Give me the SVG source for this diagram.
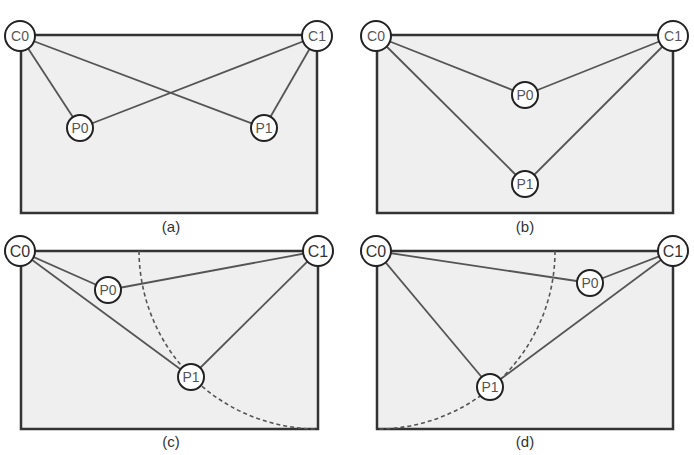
<svg xmlns="http://www.w3.org/2000/svg" width="694" height="455" viewBox="0 0 694 455">
<style>
.frame{fill:#efefef;stroke:#333;stroke-width:2.5}
.edge{stroke:#555;stroke-width:1.8;fill:none}
.arc{stroke:#555;stroke-width:1.6;fill:none;stroke-dasharray:4 3}
.cn{fill:#fff;stroke:#222;stroke-width:2}
.pn{fill:#fff;stroke:#222;stroke-width:2}
.nl{font-family:"Liberation Sans",Arial,sans-serif;font-size:14px;fill:#555;text-anchor:middle;dominant-baseline:central}
.cap{font-family:"Liberation Sans",Arial,sans-serif;font-size:15px;fill:#333;text-anchor:middle}
</style>
<rect width="694" height="455" fill="#fff"/>
<rect class="frame" x="21" y="35" width="296" height="178"/>
<rect class="frame" x="377" y="35" width="296" height="178"/>
<rect class="frame" x="21" y="251" width="297" height="178"/>
<rect class="frame" x="377" y="251" width="296" height="178"/>
<path class="arc" d="M139,251 A179,179 0 0 0 318,429"/>
<path class="arc" d="M555,251 A178,178 0 0 1 377,429"/>
<g id="connectors">
<line class="edge" x1="20" y1="36" x2="80" y2="128"/>
<line class="edge" x1="20" y1="36" x2="264" y2="128"/>
<line class="edge" x1="317" y1="36" x2="80" y2="128"/>
<line class="edge" x1="317" y1="36" x2="264" y2="128"/>
<line class="edge" x1="376" y1="36" x2="525" y2="95"/>
<line class="edge" x1="376" y1="36" x2="525" y2="184"/>
<line class="edge" x1="673" y1="36" x2="525" y2="95"/>
<line class="edge" x1="673" y1="36" x2="525" y2="184"/>
<line class="edge" x1="20" y1="251" x2="108" y2="290"/>
<line class="edge" x1="20" y1="251" x2="191" y2="377"/>
<line class="edge" x1="318" y1="251" x2="108" y2="290"/>
<line class="edge" x1="318" y1="251" x2="191" y2="377"/>
<line class="edge" x1="376" y1="251" x2="590" y2="283"/>
<line class="edge" x1="376" y1="251" x2="490" y2="387"/>
<line class="edge" x1="673" y1="251" x2="590" y2="283"/>
<line class="edge" x1="673" y1="251" x2="490" y2="387"/>
</g>
<g id="a-C0"><circle class="cn" cx="20" cy="36" r="15"/><text class="nl" x="20" y="36">C0</text></g>
<g id="a-C1"><circle class="cn" cx="317" cy="36" r="15"/><text class="nl" x="317" y="36">C1</text></g>
<g id="a-P0"><circle class="pn" cx="80" cy="128" r="13"/><text class="nl" x="80" y="128">P0</text></g>
<g id="a-P1"><circle class="pn" cx="264" cy="128" r="13"/><text class="nl" x="264" y="128">P1</text></g>
<g id="b-C0"><circle class="cn" cx="376" cy="36" r="15"/><text class="nl" x="376" y="36">C0</text></g>
<g id="b-C1"><circle class="cn" cx="673" cy="36" r="15"/><text class="nl" x="673" y="36">C1</text></g>
<g id="b-P0"><circle class="pn" cx="525" cy="95" r="13"/><text class="nl" x="525" y="95">P0</text></g>
<g id="b-P1"><circle class="pn" cx="525" cy="184" r="13"/><text class="nl" x="525" y="184">P1</text></g>
<g id="c-C0"><circle class="cn" cx="20" cy="251" r="15"/><text class="nl" x="20" y="251" style="font-size:16px;fill:#333">C0</text></g>
<g id="c-C1"><circle class="cn" cx="318" cy="251" r="15"/><text class="nl" x="318" y="251" style="font-size:16px;fill:#333">C1</text></g>
<g id="c-P0"><circle class="pn" cx="108" cy="290" r="13"/><text class="nl" x="108" y="290">P0</text></g>
<g id="c-P1"><circle class="pn" cx="191" cy="377" r="13"/><text class="nl" x="191" y="377">P1</text></g>
<g id="d-C0"><circle class="cn" cx="376" cy="251" r="15"/><text class="nl" x="376" y="251" style="font-size:16px;fill:#333">C0</text></g>
<g id="d-C1"><circle class="cn" cx="673" cy="251" r="15"/><text class="nl" x="673" y="251" style="font-size:16px;fill:#333">C1</text></g>
<g id="d-P0"><circle class="pn" cx="590" cy="283" r="13"/><text class="nl" x="590" y="283">P0</text></g>
<g id="d-P1"><circle class="pn" cx="490" cy="387" r="13"/><text class="nl" x="490" y="387">P1</text></g>
<text class="cap" x="171" y="232">(a)</text>
<text class="cap" x="525" y="232">(b)</text>
<text class="cap" x="171" y="447">(c)</text>
<text class="cap" x="525" y="447">(d)</text>
</svg>
